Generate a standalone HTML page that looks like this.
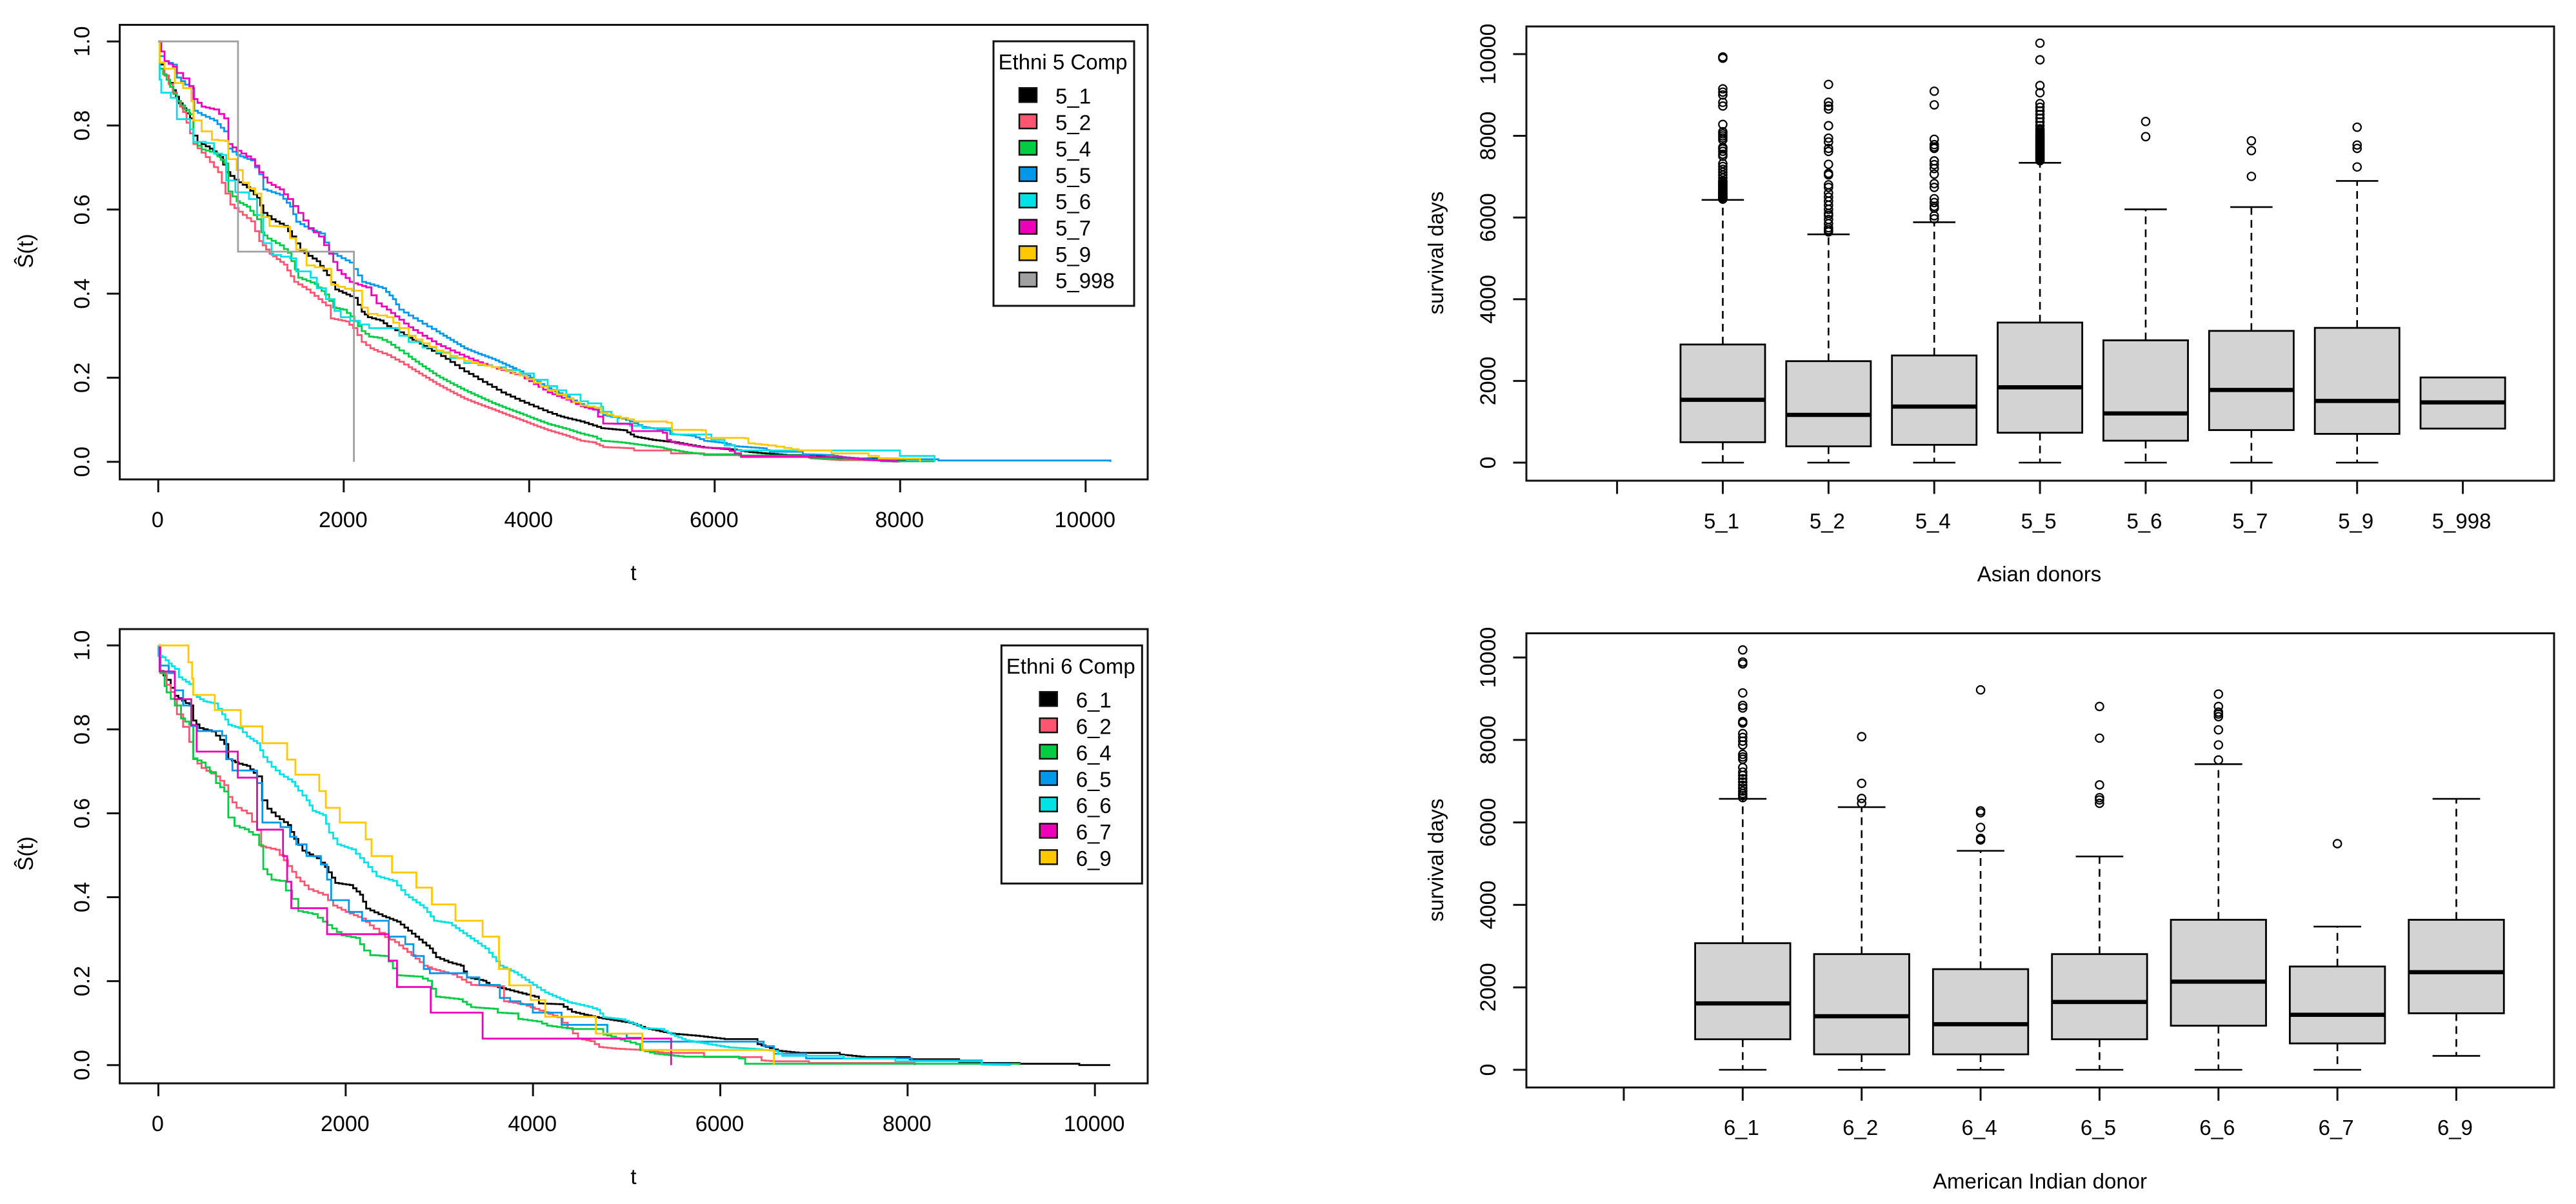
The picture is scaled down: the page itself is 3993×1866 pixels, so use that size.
<!DOCTYPE html>
<html lang="en">
<head>
<meta charset="utf-8">
<title>Survival curves and survival-day boxplots by ethnicity</title>
<style>
html,body{margin:0;padding:0;background:#fff;}
svg{display:block;font-family:"Liberation Sans",Arial,sans-serif;}
text{fill:#000;}
</style>
</head>
<body>
<svg id="figure" xmlns="http://www.w3.org/2000/svg" width="3993" height="1866" viewBox="0 0 3993 1866">
  <rect x="0" y="0" width="3993" height="1866" fill="#fff"/>

  <g id="km5"></g>
  <g id="km6"></g>
  <g id="bx5"></g>
  <g id="bx6"></g>

  <text transform="translate(51 389) rotate(-90)" text-anchor="middle" font-size="33">Ŝ(t)</text>
  <text x="982" y="899" text-anchor="middle" font-size="33">t</text>
  <text transform="translate(51 1323) rotate(-90)" text-anchor="middle" font-size="33">Ŝ(t)</text>
  <text x="982" y="1835" text-anchor="middle" font-size="33">t</text>
  <text transform="translate(2237 392) rotate(-90)" text-anchor="middle" font-size="33">survival days</text>
  <text x="3161" y="901" text-anchor="middle" font-size="33">Asian donors</text>
  <text transform="translate(2237 1333) rotate(-90)" text-anchor="middle" font-size="33">survival days</text>
  <text x="3162" y="1842" text-anchor="middle" font-size="33">American Indian donor</text>
</svg>

<script>
/* ---------- shared tick labels ---------- */
const kmXTicks = [0, 2000, 4000, 6000, 8000, 10000];
const kmYTicks = [0, 0.2, 0.4, 0.6, 0.8, 1];
const bxYTicks = [0, 2000, 4000, 6000, 8000, 10000];

/* ---------- Ethni 5 survival curves ---------- */
const km5Labels = ['5_1','5_2','5_4','5_5','5_6','5_7','5_9','5_998'];
const km5Colors = ['#000000','#FF5570','#00CC44','#0099EA','#00E2E6','#EE00BB','#FFC800','#A0A0A0'];
const km5StairWidth = [6,6,6,6,16,7,12,0];

const km5T1 = [0,15,68,157,224,343,379,423,556,667,733,822,955,1066,1133,1222,1355,1443,1532,1709,1820,1909,2109,2194,2260,2393,2468,2600,2700,2820,2900,3000,3100,3200,3300,3400,3500,3600,3700,3800,3900,4000,4100,4200,4300,4420,4554,4776,5020,5131,5330,5574,5885,6196,6373,6595,6772,7105,7394,7970,8050];
const km5S1 = [1,.945,.919,.884,.853,.817,.776,.761,.745,.725,.689,.671,.653,.628,.592,.577,.561,.536,.503,.477,.444,.410,.390,.357,.344,.336,.323,.308,.295,.281,.270,.258,.245,.230,.215,.203,.190,.178,.165,.155,.145,.136,.127,.118,.110,.103,.096,.080,.075,.060,.052,.046,.034,.029,.023,.019,.016,.013,.008,.004,0];

const km5T2 = [0,15,68,201,268,379,512,645,725,778,867,1000,1089,1200,1355,1466,1599,1728,1808,1861,2021,2101,2194,2287,2367,2468,2600,2700,2850,3000,3150,3300,3450,3600,3750,3900,4050,4200,4400,4554,4687,4798,5109,5131,5530,5885,6284,7038,7349,7882,8000];
const km5S2 = [1,.935,.919,.858,.832,.756,.725,.689,.638,.612,.595,.572,.525,.495,.469,.428,.410,.387,.372,.341,.334,.318,.285,.270,.262,.254,.238,.225,.205,.185,.167,.150,.137,.125,.112,.100,.087,.075,.062,.050,.046,.035,.032,.027,.020,.016,.011,.008,.004,.001,0];

const km5T4 = [0,15,90,201,335,379,468,601,711,756,845,955,1066,1111,1178,1311,1399,1510,1687,1798,1887,1994,2074,2194,2274,2367,2468,2600,2700,2850,3000,3150,3300,3450,3600,3750,3900,4050,4200,4400,4554,4687,4776,4953,5131,5419,5486,5708,5885,6263,7016,7305,7793,8370];
const km5S4 = [1,.935,.909,.858,.827,.761,.743,.735,.710,.643,.620,.607,.577,.546,.531,.515,.497,.438,.423,.398,.367,.362,.346,.311,.298,.295,.285,.265,.250,.227,.205,.187,.170,.155,.140,.127,.115,.102,.090,.078,.067,.060,.050,.047,.042,.034,.030,.022,.018,.015,.010,.006,.001,0];

const km5T5 = [0,15,68,157,201,335,388,468,601,711,756,845,1000,1089,1133,1311,1422,1488,1621,1754,1843,2065,2198,2420,2531,2598,2700,2800,2900,3000,3150,3300,3450,3600,3750,3900,4050,4200,4400,4554,4709,4798,5000,5086,5220,5463,5521,5752,5885,6085,6218,6528,6595,6950,7238,7372,7682,8414,10268];
const km5S5 = [1,.965,.953,.945,.914,.889,.835,.825,.812,.786,.745,.730,.717,.684,.648,.635,.607,.571,.554,.543,.500,.474,.428,.413,.387,.362,.348,.335,.322,.310,.290,.270,.257,.245,.230,.215,.195,.175,.155,.137,.124,.111,.103,.096,.083,.075,.066,.062,.050,.045,.037,.032,.024,.018,.016,.011,.006,.003,0];

const km5T6 = [0,15,33,135,201,343,379,512,601,689,733,831,978,1066,1133,1222,1422,1488,1643,1710,1808,1901,1968,2274,2600,2700,2850,3000,3150,3300,3450,3600,3750,3900,4050,4200,4400,4554,4634,4776,4798,4887,4953,5220,5539,5965,6107,6218,7997,8370];
const km5S6 = [1,.909,.878,.866,.815,.791,.761,.758,.733,.730,.669,.641,.625,.587,.520,.492,.484,.453,.438,.413,.387,.359,.344,.318,.300,.285,.272,.260,.247,.235,.230,.225,.218,.210,.195,.180,.160,.144,.139,.131,.119,.106,.091,.080,.065,.052,.039,.027,.014,0];

const km5T7 = [0,33,68,157,201,268,335,379,468,601,711,756,845,1000,1089,1178,1311,1399,1510,1621,1732,1843,1932,2065,2243,2354,2465,2600,2700,2850,3000,3150,3300,3450,3600,3750,3900,4050,4200,4400,4554,4687,4798,5064,5109,5441,5486,5574,5863,6107,6218,6284,7016,7394,7660,7970];
const km5S7 = [1,.976,.953,.940,.925,.912,.894,.863,.845,.838,.817,.756,.740,.720,.689,.664,.648,.625,.592,.556,.536,.495,.456,.428,.415,.377,.362,.338,.320,.300,.280,.265,.250,.237,.225,.215,.205,.185,.165,.148,.132,.124,.091,.090,.073,.069,.052,.044,.034,.032,.020,.013,.011,.010,.004,.001];

const km5T9 = [0,15,68,179,268,357,379,468,579,720,756,845,911,1044,1111,1200,1355,1488,1599,1776,1865,2087,2198,2260,2468,2600,2700,2850,3000,3150,3300,3450,3600,3750,3900,4050,4200,4400,4554,4709,4776,4909,5064,5131,5486,5539,5863,5907,6329,6364,6573,6750,6905,7260,7660,7770,8214];
const km5S9 = [1,.950,.935,.901,.889,.858,.812,.786,.766,.763,.720,.694,.664,.638,.582,.561,.559,.505,.467,.459,.421,.407,.367,.352,.344,.318,.300,.282,.265,.252,.240,.232,.225,.215,.205,.188,.170,.150,.134,.129,.116,.108,.101,.096,.093,.076,.075,.057,.056,.044,.039,.033,.027,.020,.014,.008,0];

const km5T998 = [0,860,2110];
const km5S998 = [1,.5,0];

/* ---------- Ethni 6 survival curves ---------- */
const km6Labels = ['6_1','6_2','6_4','6_5','6_6','6_7','6_9'];
const km6Colors = ['#000000','#FF5570','#00CC44','#0099EA','#00E2E6','#EE00BB','#FFC800'];
const km6StairWidth = [6,7,7,0,6,0,0];

const km6T1 = [0,22,88,176,330,373,439,571,703,747,857,945,1054,1107,1164,1252,1384,1450,1538,1691,1779,1889,2043,2153,2219,2394,2548,2746,2899,2965,3097,3229,3295,3470,3536,3756,4019,4063,4283,4415,4547,4744,5030,5197,5475,5738,6046,6397,6617,6837,7276,7540,8023,8551,8814,9195,9833,10163];
const km6S1 = [1,.939,.918,.880,.857,.821,.803,.795,.765,.729,.718,.713,.688,.631,.611,.593,.572,.539,.511,.493,.472,.434,.429,.406,.373,.355,.342,.306,.278,.257,.245,.237,.209,.201,.191,.178,.163,.147,.145,.127,.120,.111,.101,.088,.075,.070,.062,.050,.034,.029,.025,.019,.014,.006,.005,.003,0,0];

const km6T2 = [0,22,88,176,198,264,330,373,461,615,703,747,835,945,1054,1098,1252,1340,1472,1604,1757,1867,2000,2175,2300,2420,2526,2702,2834,2921,3141,3339,3624,3690,3888,4020,4261,4371,4481,4613,4706,4881,5145,5387,5826,6441,6573,6946,8076];
const km6S2 = [1,.934,.906,.872,.836,.806,.770,.729,.708,.688,.667,.639,.613,.600,.560,.521,.513,.488,.447,.419,.406,.380,.365,.349,.325,.305,.293,.262,.237,.229,.216,.191,.188,.152,.145,.134,.114,.088,.063,.057,.043,.039,.036,.029,.019,.011,.009,.005,0];

const km6T4 = [0,22,66,88,176,242,330,373,461,549,615,703,747,813,923,1010,1076,1120,1208,1296,1362,1428,1494,1647,1757,1955,2109,2197,2262,2416,2460,2548,2768,2878,2965,3207,3339,3580,3624,3778,3844,4042,4151,4415,4750,4838,4982,5101,5145,5299,5607,6200,6266,9195];
const km6S4 = [1,.934,.903,.888,.857,.826,.811,.731,.721,.698,.672,.652,.590,.570,.562,.549,.524,.467,.442,.439,.416,.396,.367,.360,.342,.309,.303,.273,.262,.260,.247,.214,.211,.201,.163,.157,.138,.134,.125,.123,.110,.104,.094,.086,.073,.068,.057,.050,.036,.027,.020,.016,.003,0];

const km6T5 = [0,22,110,176,264,351,417,681,725,791,1054,1111,1305,1406,1472,1582,1735,1801,1845,2034,2175,2460,2636,2724,2834,2899,3295,3427,3646,3756,3866,3998,4305,4794,5000,5167,6463,6573,6916,8045,8791,9100];
const km6S5 = [1,.952,.934,.893,.857,.808,.796,.785,.729,.702,.672,.578,.567,.544,.526,.498,.478,.442,.393,.365,.344,.306,.288,.260,.229,.219,.209,.191,.160,.152,.145,.125,.096,.075,.065,.056,.045,.027,.016,.011,.003,0];

const km6T6 = [0,0,44,110,176,220,330,373,483,593,681,747,857,945,1054,1120,1208,1296,1428,1494,1582,1647,1757,1823,1911,2065,2197,2328,2504,2636,2834,2943,3097,3295,3492,3646,3800,4000,4129,4371,4591,4684,4750,4948,5101,5167,5365,5475,5629,5870,6090,6332,6573,6661,7320,7869,8791,9100];
const km6S6 = [1,.975,.972,.957,.944,.924,.908,.882,.867,.862,.836,.811,.803,.783,.767,.734,.711,.693,.675,.654,.631,.606,.596,.554,.526,.514,.483,.450,.439,.406,.375,.344,.339,.308,.278,.237,.221,.191,.173,.150,.139,.132,.114,.109,.096,.088,.086,.073,.059,.050,.042,.039,.034,.022,.016,.009,.001,0];

const km6T7 = [0,13,176,351,409,848,1054,1331,1375,1419,1801,2460,2548,2908,3462,5475];
const km6S7 = [1,.938,.872,.810,.747,.685,.561,.498,.437,.374,.312,.249,.186,.125,.063,0];

const km6T9 = [0,321,360,373,602,879,1111,1375,1463,1718,1788,1937,2214,2276,2495,2755,2921,3172,3462,3637,3747,3976,4131,4671,5167,6573];
const km6S9 = [1,.960,.921,.882,.846,.807,.767,.728,.692,.653,.613,.578,.538,.498,.459,.423,.383,.344,.306,.229,.190,.155,.115,.075,.036,0];

/* ---------- Asian donor boxplot ---------- */
const bx5Cats  = ['','5_1','5_2','5_4','5_5','5_6','5_7','5_9','5_998'];
const bx5Q1    = [null,500,399,436,732,537,797,704,834];
const bx5Med   = [null,1539,1168,1372,1844,1205,1779,1511,1474];
const bx5Q3    = [null,2892,2484,2623,3429,2994,3225,3299,2085];
const bx5WhiskHi = [null,6432,5589,5885,7340,6200,6256,6895,null];
const bx5WhiskLo = [null,0,0,0,0,0,0,0,null];
const bx5Out1 = [6450,6465,6480,6495,6510,6530,6550,6565,6580,6600,6620,6640,6660,6680,6700,6720,6745,6770,6790,6810,6830,6860,6880,6900,6970,7040,7110,7180,7250,7320,7500,7550,7620,7680,7720,7900,7950,8000,8050,8100,8280,8730,8820,9000,9070,9150,9900,9930];
const bx5Out2 = [5650,5700,5750,5850,5950,6050,6100,6200,6300,6400,6500,6600,6738,6802,7044,7081,7303,7618,7692,7850,7943,8248,8656,8730,8823,9258];
const bx5Out4 = [5968,6043,6228,6274,6367,6460,6738,6830,7062,7200,7294,7387,7692,7730,7785,7915,8758,9092];
const bx5Out5 = [7390,7420,7450,7480,7510,7540,7570,7600,7630,7660,7690,7720,7750,7780,7810,7840,7870,7900,7930,7960,7990,8020,8050,8090,8130,8174,8250,8340,8430,8520,8610,8700,8790,9055,9231,9861,10269];
const bx5Out6 = [7980,8350];
const bx5Out7 = [7007,7637,7878];
const bx5Out9 = [7238,7692,7775,8211];
const bx5Out998 = [];

/* ---------- American Indian donor boxplot ---------- */
const bx6Cats  = ['','6_1','6_2','6_4','6_5','6_6','6_7','6_9'];
const bx6Q1    = [null,740,375,375,740,1069,640,1371];
const bx6Med   = [null,1609,1298,1106,1645,2139,1335,2367];
const bx6Q3    = [null,3071,2806,2441,2806,3638,2505,3638];
const bx6WhiskHi = [null,6572,6371,5311,5174,7413,3473,6572];
const bx6WhiskLo = [null,0,0,0,0,0,0,338];
const bx6Out1 = [6600,6650,6700,6760,6830,6900,6980,7060,7140,7220,7331,7532,7587,7651,7879,7971,8062,8154,8410,8446,8775,8839,9141,9845,9890,10183];
const bx6Out2 = [6463,6581,6947,8080];
const bx6Out4 = [5576,5612,5878,6234,6280,9214];
const bx6Out5 = [6463,6545,6600,6910,8044,8812];
const bx6Out6 = [7514,7879,8245,8565,8629,8675,8812,9113];
const bx6Out7 = [5484];
const bx6Out9 = [];

/* ---------- helpers ---------- */
const NS = 'http://www.w3.org/2000/svg';
function linear(d0, d1, r0, r1) {
  return function (v) { return r0 + (v - d0) * (r1 - r0) / (d1 - d0); };
}
function make(parent, tag, props) {
  const el = document.createElementNS(NS, tag);
  for (const k in props) { el.setAttribute(k, props[k]); }
  parent.appendChild(el);
  return el;
}
function fmt(v) { return v.toFixed(1); }

/* Kaplan-Meier path: a short gap between two read points is drawn as fine stairs
   of the given pixel width; a long gap stays one plateau followed by one drop. */
function stepPath(t, s, xs, ys, stairWidth) {
  let d = 'M' + fmt(xs(t[0])) + ' ' + fmt(ys(s[0]));
  const n = Math.min(t.length, s.length);
  for (let k = 1; k < n; k++) {
    const x0 = xs(t[k - 1]), x1 = xs(t[k]), y0 = ys(s[k - 1]), y1 = ys(s[k]);
    const dx = x1 - x0, dy = y1 - y0;
    if (stairWidth > 0 && dx <= 45 && dx > stairWidth && dy !== 0) {
      const m = Math.max(1, Math.round(dx / stairWidth));
      for (let j = 1; j <= m; j++) {
        d += 'H' + fmt(x0 + dx * j / m) + 'V' + fmt(y0 + dy * j / m);
      }
    } else {
      d += 'H' + fmt(x1) + 'V' + fmt(y1);
    }
  }
  return d;
}

function drawFrame(g, box, prefix) {
  const el = make(g, 'rect', {x: box.l, y: box.t, width: box.r - box.l, height: box.b - box.t, fill: 'none', stroke: '#111', 'stroke-width': 3});
  
  
}
function tickLine(g, x1, y1, x2, y2, name) {
  const el = make(g, 'line', {x1: x1, y1: y1, x2: x2, y2: y2, stroke: '#111', 'stroke-width': 3});
  
  
}
function tickText(g, txt, x, y, rotate, name) {
  const el = make(g, 'text', {'text-anchor': 'middle', 'font-size': 34});
  if (rotate) { el.setAttribute('transform', 'translate(' + x + ' ' + y + ') rotate(-90)'); }
  else { el.setAttribute('x', x); el.setAttribute('y', y); }
  el.textContent = txt;
  
  
}

/* ---------- survival chart ---------- */
function drawKm(gid, prefix, box, xs, ys, xTicks, yTicks, labels, colors, stairs, times, surv, legend) {
  const g = document.getElementById(gid);
  labels.forEach(function (lab, i) {
    const d = stepPath(times[i], surv[i], xs, ys, stairs[i]);
    const p = make(g, 'path', {d: d, fill: 'none', stroke: colors[i], 'stroke-width': 2.8});
    
    
  });
  drawFrame(g, box, prefix);
  xTicks.forEach(function (v) {
    tickLine(g, xs(v), box.b, xs(v), box.b + 20, prefix + '-x-tick-' + v);
    tickText(g, String(v), xs(v) - 1, box.b + 74, false, prefix + '-x-tick-label-' + v);
  });
  yTicks.forEach(function (v) {
    tickLine(g, box.l - 20, ys(v), box.l, ys(v), prefix + '-y-tick-' + v);
    tickText(g, v.toFixed(1), 138.5, ys(v), true, prefix + '-y-tick-label-' + v);
  });
  /* legend */
  const lg = make(g, 'g', {});
  
  
  const fr = make(lg, 'rect', {x: legend.l, y: legend.t, width: legend.r - legend.l, height: legend.b - legend.t, fill: '#fff', stroke: '#111', 'stroke-width': 3});
  
  
  const tt = make(lg, 'text', {x: legend.l + 7.5, y: legend.t + 43.5, 'font-size': 33});
  tt.textContent = legend.title;
  
  
  labels.forEach(function (lab, i) {
    const cy = legend.firstY + i * 40.85;
    const sw = make(lg, 'rect', {x: legend.swatchX, y: cy - 11, width: 27, height: 22, fill: colors[i], stroke: '#111', 'stroke-width': 2.5});
    
    
    const tx = make(lg, 'text', {x: legend.swatchX + 56, y: cy + 13.4, 'font-size': 33});
    tx.textContent = lab;
    
    
  });
}

/* ---------- boxplot chart ---------- */
function drawBox(gid, prefix, box, xs, ys, yTicks, cats, q1, med, q3, hi, lo, outs, labelY) {
  const g = document.getElementById(gid);
  const step = xs(1) - xs(0);
  const bw = step * 0.4, cw = step * 0.2;
  cats.forEach(function (cat, i) {
    const cx = xs(i);
    if (cat !== '') {
      const grp = make(g, 'g', {});
      
      
      if (hi[i] !== null) {
        const w1 = make(grp, 'line', {x1: cx, y1: ys(q3[i]), x2: cx, y2: ys(hi[i]), stroke: '#000', 'stroke-width': 2.6, 'stroke-dasharray': '12 8'});
        
        
        const w2 = make(grp, 'line', {x1: cx, y1: ys(q1[i]), x2: cx, y2: ys(lo[i]), stroke: '#000', 'stroke-width': 2.6, 'stroke-dasharray': '12 8'});
        
        
        const c1 = make(grp, 'line', {x1: cx - cw, y1: ys(hi[i]), x2: cx + cw, y2: ys(hi[i]), stroke: '#000', 'stroke-width': 2.6});
        
        
        const c2 = make(grp, 'line', {x1: cx - cw, y1: ys(lo[i]), x2: cx + cw, y2: ys(lo[i]), stroke: '#000', 'stroke-width': 2.6});
        
        
      }
      const r = make(grp, 'rect', {x: cx - bw, y: ys(q3[i]), width: bw * 2, height: ys(q1[i]) - ys(q3[i]), fill: '#D3D3D3', stroke: '#000', 'stroke-width': 2.8});
      
      
      const m = make(grp, 'line', {x1: cx - bw, y1: ys(med[i]), x2: cx + bw, y2: ys(med[i]), stroke: '#000', 'stroke-width': 6.5});
      
      
      outs[i].forEach(function (v) {
        const c = make(grp, 'circle', {cx: cx, cy: ys(v), r: 6.2, fill: 'none', stroke: '#000', 'stroke-width': 2.2});
        
        
      });
    }
    tickLine(g, cx, box.b, cx, box.b + 20.5, prefix + '-x-tick-' + (cat || 'blank'));
    if (cat !== '') {
      const lb = make(g, 'text', {x: cx - 2, y: labelY, 'text-anchor': 'middle', 'font-size': 33});
      lb.textContent = cat;
      
      
    }
  });
  drawFrame(g, box, prefix);
  yTicks.forEach(function (v) {
    tickLine(g, box.l - 20.5, ys(v), box.l, ys(v), prefix + '-y-tick-' + v);
    const t = make(g, 'text', {'text-anchor': 'middle', 'font-size': 34, transform: 'translate(2318 ' + ys(v) + ') rotate(-90)'});
    t.textContent = String(v);
    
    
  });
}

/* ---------- render ---------- */
drawKm('km5', 'km5',
  {l: 185.6, t: 38.5, r: 1779, b: 743},
  linear(0, 10000, 245.3, 1682.8), linear(0, 1, 715.7, 64.2),
  kmXTicks, kmYTicks, km5Labels, km5Colors, km5StairWidth,
  [km5T1, km5T2, km5T4, km5T5, km5T6, km5T7, km5T9, km5T998],
  [km5S1, km5S2, km5S4, km5S5, km5S6, km5S7, km5S9, km5S998],
  {l: 1540, t: 64, r: 1758, b: 474, title: 'Ethni 5 Comp', firstY: 147.3, swatchX: 1580});

drawKm('km6', 'km6',
  {l: 185.6, t: 975, r: 1779, b: 1679},
  linear(0, 10000, 245.5, 1697.2), linear(0, 1, 1650.7, 1000.3),
  kmXTicks, kmYTicks, km6Labels, km6Colors, km6StairWidth,
  [km6T1, km6T2, km6T4, km6T5, km6T6, km6T7, km6T9],
  [km6S1, km6S2, km6S4, km6S5, km6S6, km6S7, km6S9],
  {l: 1552.3, t: 1000.3, r: 1770.3, b: 1369.3, title: 'Ethni 6 Comp', firstY: 1083.3, swatchX: 1611.7});

drawBox('bx5', 'bx5',
  {l: 2366, t: 41, r: 3959, b: 745},
  linear(0, 8, 2506.6, 3817.6), linear(0, 10000, 717, 83.9),
  bxYTicks, bx5Cats, bx5Q1, bx5Med, bx5Q3, bx5WhiskHi, bx5WhiskLo,
  [[], bx5Out1, bx5Out2, bx5Out4, bx5Out5, bx5Out6, bx5Out7, bx5Out9, bx5Out998], 819);

drawBox('bx6', 'bx6',
  {l: 2366, t: 981.5, r: 3959, b: 1685.4},
  linear(0, 7, 2517, 3807.5), linear(0, 10000, 1658, 1019),
  bxYTicks, bx6Cats, bx6Q1, bx6Med, bx6Q3, bx6WhiskHi, bx6WhiskLo,
  [[], bx6Out1, bx6Out2, bx6Out4, bx6Out5, bx6Out6, bx6Out7, bx6Out9], 1759);
</script>
</body>
</html>
